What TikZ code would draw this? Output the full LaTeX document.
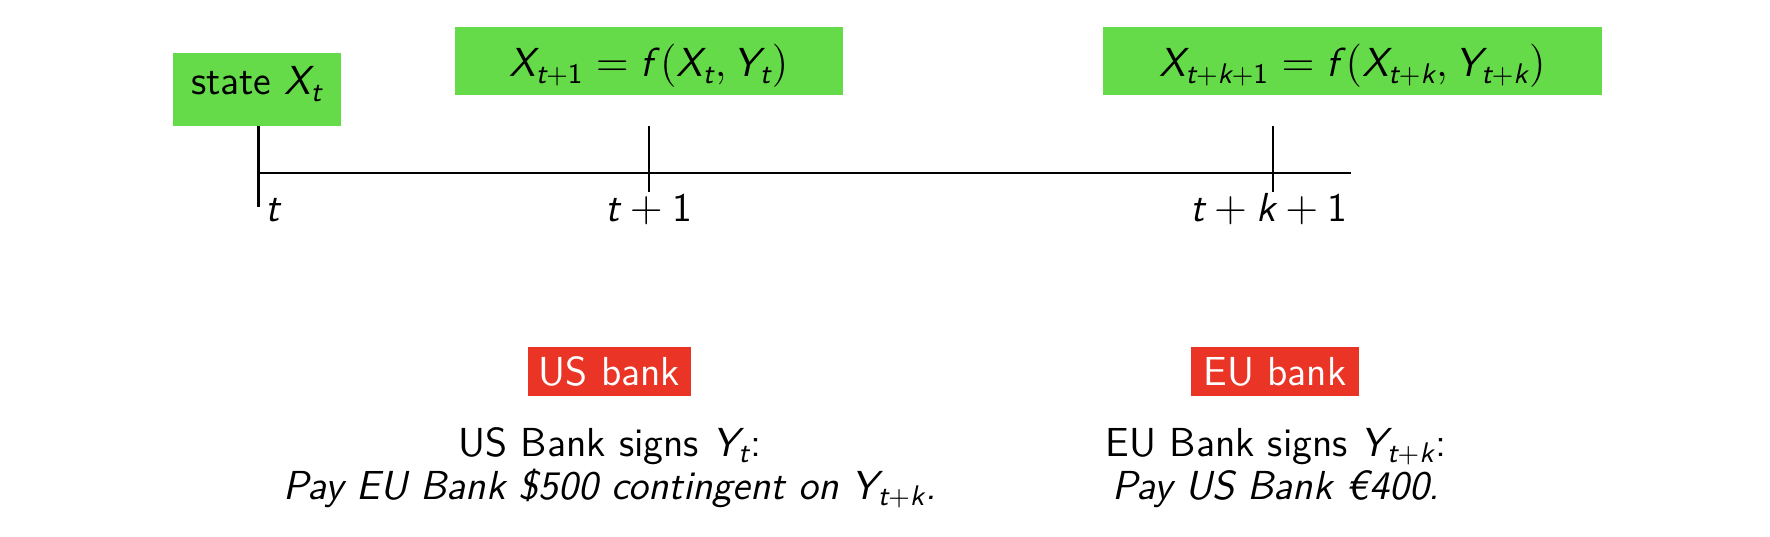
\documentclass[tikz,border=0pt]{standalone}
\usepackage{amsmath}
\usepackage{fontspec}
\definecolor{boxgreen}{RGB}{101,219,73}
\definecolor{boxred}{RGB}{233,52,38}
\newcommand\mvar[1]{\text{\sffamily\itshape #1}}
\newcommand\mnum[1]{\text{\sffamily\upshape #1}}
\begin{document}
\begin{tikzpicture}[x=0.33333pt,y=-0.33333pt,
  every node/.style={font=\fontsize{13.5}{16}\selectfont\sffamily, inner sep=0pt},
  gbox/.style={fill=boxgreen, text=black},
  rbox/.style={fill=boxred, text=white},
  axis/.style={line width=0.7pt}]
\useasboundingbox (0,0) rectangle (1770,536);
\node[gbox, minimum width=56pt, minimum height=24.33pt, text height=10pt, text depth=6.5pt] (state) at (257,89.5) {state $\mvar{X}_{\mvar{t}}$};
\node[gbox, minimum width=129.33pt, minimum height=22.67pt, text height=10.5pt, text depth=0pt] (f1) at (649,61)
  {$\mvar{X}_{\mvar{t}+\mnum{1}}=\mvar{f}\,(\mvar{X}_{\mvar{t}},\mvar{Y}_{\mvar{t}})$};
\node[gbox, minimum width=166.33pt, minimum height=22.67pt, text height=10.5pt, text depth=0pt] (f2) at (1352.5,61)
  {$\mvar{X}_{\mvar{t}+\mvar{k}+\mnum{1}}=\mvar{f}\,(\mvar{X}_{\mvar{t}+\mvar{k}},\mvar{Y}_{\mvar{t}+\mvar{k}})$};
\coordinate (a0) at (258.5,173);
\coordinate (a1) at (1351,173);
\coordinate (k0top) at (258.5,126);
\coordinate (k0bot) at (258.5,207);
\coordinate (k1top) at (649,126);
\coordinate (k1bot) at (649,192);
\coordinate (k2top) at (1273,126);
\coordinate (k2bot) at (1273,192);
\draw[axis] (a0) -- (a1);
\draw[axis] (k0top) -- (k0bot);
\draw[axis] (k1top) -- (k1bot);
\draw[axis] (k2top) -- (k2bot);
\node[anchor=base west] (lt) at (265,221) {$\mvar{t}$};
\node[anchor=base] (lt1) at (649,221) {$\mvar{t}+\mnum{1}$};
\node[anchor=base] (ltk) at (1269,221) {$\mvar{t}+\mvar{k}+\mnum{1}$};
\node[rbox, minimum width=54.33pt, minimum height=16.33pt] (us) at (609.5,371.5) {US bank};
\node[rbox, minimum width=56pt, minimum height=16.33pt] (eu) at (1275,371.5) {EU bank};
\node[anchor=base] (us1) at (610,456) {US Bank signs $\mvar{Y}_{\mvar{t}}$:};
\node[anchor=base] (us2) at (610,499) {\itshape Pay EU Bank \$500 contingent on $\mvar{Y}_{\mvar{t}+\mvar{k}}$.};
\node[anchor=base] (eu1) at (1276,456) {EU Bank signs $\mvar{Y}_{\mvar{t}+\mvar{k}}$:};
\node[anchor=base] (eu2) at (1276,499) {\itshape Pay US Bank €400.};
\end{tikzpicture}
\end{document}
